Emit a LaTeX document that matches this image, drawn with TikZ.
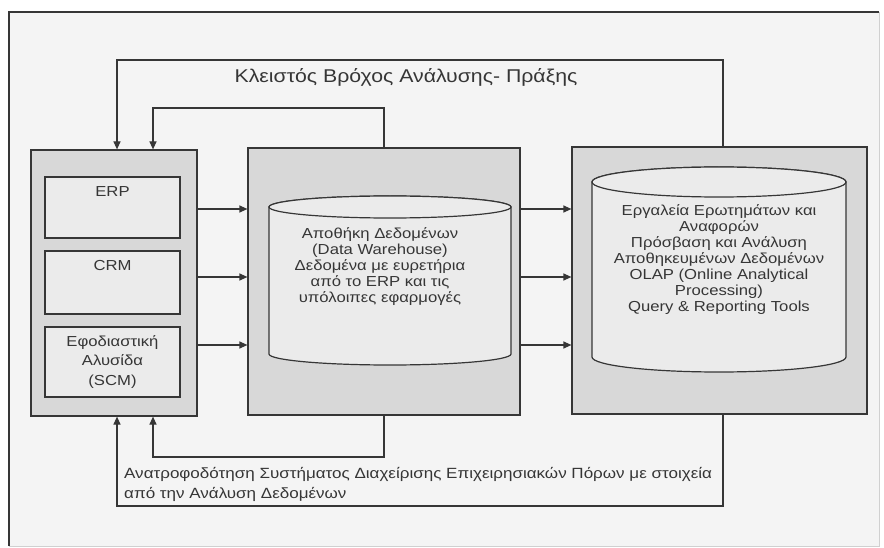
\documentclass[tikz,border=0pt]{standalone}
\usepackage{fontspec}
\setmainfont{Liberation Sans}[FakeStretch=1.15]
\usetikzlibrary{arrows.meta}
\definecolor{ink}{HTML}{363636}
\definecolor{panelgray}{HTML}{D8D8D8}
\definecolor{lightfill}{HTML}{EBEBEB}
\definecolor{paper}{HTML}{F4F4F4}
\definecolor{edge}{HTML}{D0D0D0}

\begin{document}
\begin{tikzpicture}[x=1pt,y=-1pt,
  line/.style={draw=ink,line width=1.2pt},
  arr/.style={line,-{Triangle[length=8pt,width=7pt]}},
  panel/.style={line,fill=panelgray,inner sep=0pt},
  appbox/.style={line,fill=lightfill,inner sep=0pt},
  txt/.style={font=\fontsize{14.5}{16}\selectfont,text=ink,align=center,inner sep=0pt},
  boxtxt/.style={font=\fontsize{14.5}{19.5}\selectfont,text=ink,align=center,inner sep=0pt},
  titletxt/.style={font=\fontsize{18.5}{22}\selectfont,text=ink,inner sep=0pt},
  notetxt/.style={font=\fontsize{14.8}{20}\selectfont,text=ink,align=left,inner sep=0pt}]

\useasboundingbox (0,0) rectangle (884,548);
\fill[white] (0,0) rectangle (884,548);

% page frame
\fill[paper] (9,12) rectangle (879,546);
\draw[draw=edge,line width=1pt] (879,12) -- (879,546) -- (9,546);
\draw[line] (9,546) -- (9,12) -- (879,12);

% the three panels
\node[panel,minimum width=166pt,minimum height=266pt] (L) at (114,283) {};
\node[panel,minimum width=272pt,minimum height=267pt] (M) at (384,281.5) {};
\node[panel,minimum width=295pt,minimum height=267pt] (R) at (719.5,280.5) {};

% applications in the left panel
\node[appbox,minimum width=135pt,minimum height=61pt] (erp) at (112.5,207.5) {};
\node[appbox,minimum width=135pt,minimum height=63pt] (crm) at (112.5,282.5) {};
\node[appbox,minimum width=135pt,minimum height=70pt] (scm) at (112.5,362) {};
\node[boxtxt,anchor=north] (erpt) at ([yshift=-10pt]erp.north) {ERP};
\node[boxtxt,anchor=north] (crmt) at ([yshift=-10pt]crm.north) {CRM};
\node[boxtxt] (scmt) at (scm.center) {Εφοδιαστική\\Αλυσίδα\\(SCM)};

% data warehouse cylinder
\filldraw[appbox] (269,207) -- (269,354)
  arc[start angle=180,end angle=360,x radius=121pt,y radius=11pt]
  -- (511,207)
  arc[start angle=0,end angle=180,x radius=121pt,y radius=11pt] -- cycle;
\filldraw[appbox] (390,207) ellipse[x radius=121pt,y radius=11pt];
\node[txt] (dw) at (380,266.5) {Αποθήκη Δεδομένων\\(Data Warehouse)\\Δεδομένα με ευρετήρια\\από το ERP και τις\\υπόλοιπες εφαρμογές};

% analysis tools cylinder
\filldraw[appbox] (592,182) -- (592,357)
  arc[start angle=180,end angle=360,x radius=127pt,y radius=15pt]
  -- (846,182)
  arc[start angle=0,end angle=180,x radius=127pt,y radius=15pt] -- cycle;
\filldraw[appbox] (719,182) ellipse[x radius=127pt,y radius=15pt];
\node[txt] (tools) at (719,259.5) {Εργαλεία Ερωτημάτων και\\Αναφορών\\Πρόσβαση και Ανάλυση\\Αποθηκευμένων Δεδομένων\\OLAP (Online Analytical\\Processing)\\Query \& Reporting Tools};

% levels of the horizontal flows
\coordinate (f1) at (0,209);
\coordinate (f2) at (0,277);
\coordinate (f3) at (0,345);
\foreach \f in {f1,f2,f3}{
  \draw[arr] (L.east |- \f) -- (M.west |- \f);
  \draw[arr] (M.east |- \f) -- (R.west |- \f);
}

% feedback loops
\coordinate (yot) at (0,60);
\coordinate (yit) at (0,108);
\coordinate (yib) at (0,457);
\coordinate (yob) at (0,506);
\coordinate (xo) at (117,0);
\coordinate (xi) at (153,0);
\coordinate (xm) at (384,0);
\coordinate (xr) at (723,0);
\draw[arr] (R.north -| xr) |- (yot -| xo) -- (L.north -| xo);
\draw[arr] (M.north -| xm) |- (yit -| xi) -- (L.north -| xi);
\draw[arr] (M.south -| xm) |- (yib -| xi) -- (L.south -| xi);
\draw[arr] (R.south -| xr) |- (yob -| xo) -- (L.south -| xo);

\node[titletxt] (title) at (406,77) {Κλειστός Βρόχος Ανάλυσης- Πράξης};
\node[notetxt,anchor=north west] (note) at (124,467) {Ανατροφοδότηση Συστήματος Διαχείρισης Επιχειρησιακών Πόρων με στοιχεία\\από την Ανάλυση Δεδομένων};
\end{tikzpicture}
\end{document}
